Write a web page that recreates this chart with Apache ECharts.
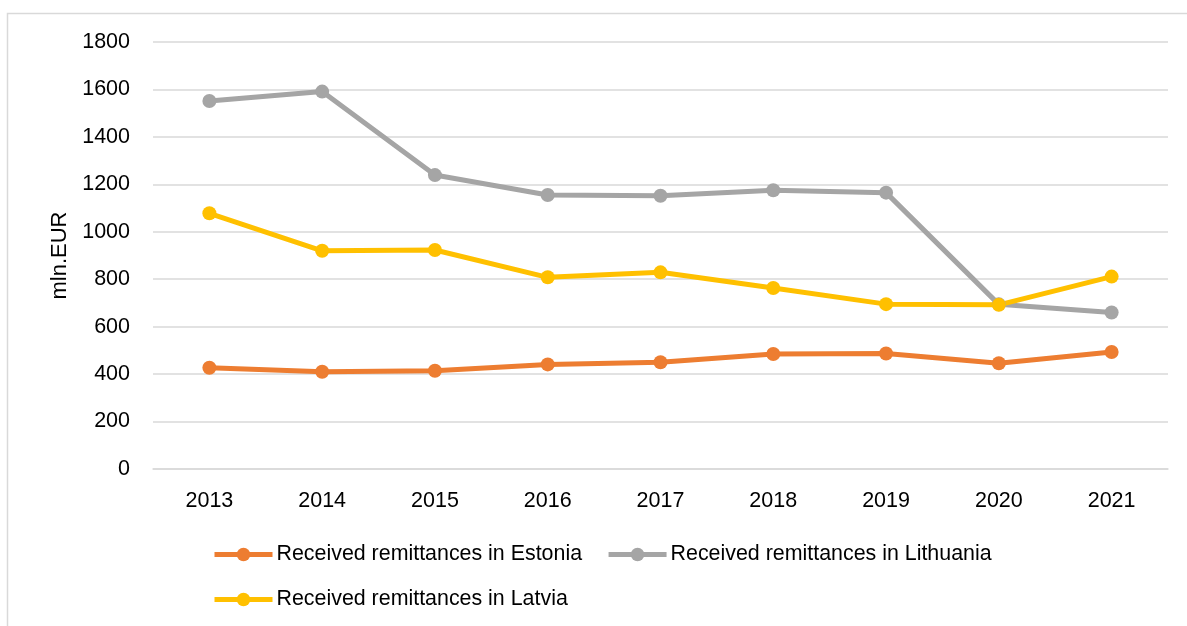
<!DOCTYPE html>
<html>
<head>
<meta charset="utf-8">
<script src="https://cdn.jsdelivr.net/npm/echarts@6/dist/echarts.min.js"></script>
<style>
  html, body { margin: 0; padding: 0; background: #fff; }
  #chart { width: 1187px; height: 626px; }
</style>
</head>
<body>
<div id="chart"></div>
<script>
// Years on the category axis
const years = ['2013', '2014', '2015', '2016', '2017', '2018', '2019', '2020', '2021'];

// Received remittances, mln. EUR
const estonia = [427, 410, 414, 441, 450, 485, 487, 446, 493];
const lithuania = [1551, 1591, 1239, 1155, 1152, 1175, 1165, 694, 660];
const latvia = [1078, 920, 923, 808, 829, 763, 695, 692, 811];

// Value axis range
const yMin = 0;
const yMax = 1800;
const yStep = 200;

const FONT = '"Liberation Sans", Arial, sans-serif';

function lineSeries(name, data, color) {
  return {
    name: name,
    type: 'line',
    data: data,
    symbol: 'circle',
    symbolSize: 14,
    lineStyle: { color: color, width: 5 },
    itemStyle: { color: color },
    animation: false
  };
}

const chart = echarts.init(document.getElementById('chart'), null, { renderer: 'canvas' });
chart.setOption({
  backgroundColor: '#ffffff',
  animation: false,
  graphic: [{
    type: 'rect',
    shape: { x: 7.5, y: 13.5, width: 1200, height: 640 },
    style: { fill: 'none', stroke: '#d9d9d9', lineWidth: 1.5 },
    silent: true
  }],
  grid: { left: 153, right: 19, top: 42, bottom: 157, containLabel: false },
  legend: {
    left: 212,
    top: 544,
    width: 800,
    itemWidth: 58,
    itemHeight: 17,
    itemGap: 24,
    padding: 0,
    lineStyle: { width: 5 },
    textStyle: { fontFamily: FONT, fontSize: 21.4, color: '#000', padding: [0, 0, 0, -1] },
    data: ['Received remittances in Estonia', 'Received remittances in Lithuania', 'Received remittances in Latvia']
  },
  xAxis: {
    type: 'category',
    data: years,
    boundaryGap: true,
    axisLine: { show: true, lineStyle: { color: '#d9d9d9', width: 1.5 } },
    axisTick: { show: false },
    axisLabel: { fontFamily: FONT, fontSize: 21.5, color: '#000', margin: 21 }
  },
  yAxis: {
    type: 'value',
    min: yMin,
    max: yMax,
    interval: yStep,
    name: 'mln.EUR',
    nameLocation: 'middle',
    nameGap: 79,
    nameTextStyle: { fontFamily: FONT, fontSize: 22, color: '#000' },
    axisLine: { show: false },
    axisTick: { show: false },
    splitLine: { lineStyle: { color: '#d9d9d9', width: 1.5 } },
    axisLabel: {
      fontFamily: FONT, fontSize: 21.5, color: '#000', margin: 23,
      formatter: function (v) { return String(v); }
    }
  },
  series: [
    lineSeries('Received remittances in Estonia', estonia, '#ED7D31'),
    lineSeries('Received remittances in Lithuania', lithuania, '#A5A5A5'),
    lineSeries('Received remittances in Latvia', latvia, '#FFC000')
  ]
});
</script>
</body>
</html>
